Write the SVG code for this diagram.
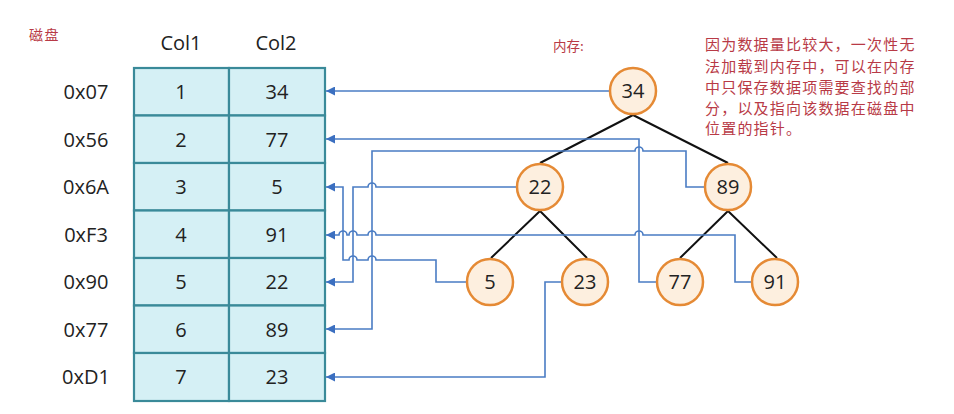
<svg xmlns="http://www.w3.org/2000/svg" width="954" height="414" viewBox="0 0 954 414">
<defs>
<style>
.t{font-family:"Open Sans","Noto Sans",sans-serif;font-size:20px;fill:#222;text-anchor:middle;dominant-baseline:central}
.red{font-family:"Noto Sans CJK SC",sans-serif;fill:#b83a46}
.node circle{fill:#fdefdf;stroke:#e58a35;stroke-width:2.5}
.edge{stroke:#111;stroke-width:2;fill:none}
.conn path{stroke:#4a7cc4;stroke-width:1.6;fill:none;marker-end:url(#arr)}
.cell{fill:#d5f0f5;stroke:#3a8a99;stroke-width:2.2}
</style>
<marker id="arr" viewBox="0 0 10 10" refX="10" refY="5" markerWidth="9" markerHeight="9" markerUnits="userSpaceOnUse" orient="auto">
<path d="M0,0 L10,5 L0,10 z" fill="#3b6fc0"/>
</marker>
</defs>
<rect width="954" height="414" fill="#fff"/>
<text class="red" x="29" y="40" font-size="14" letter-spacing="1.5">磁盘</text>
<text class="red" x="553" y="51" font-size="13.5">内存:</text>
<g class="red" font-size="15" letter-spacing="1.2">
<text x="705" y="50">因为数据量比较大，一次性无</text>
<text x="705" y="72">法加载到内存中，可以在内存</text>
<text x="705" y="93">中只保存数据项需要查找的部</text>
<text x="705" y="114">分，以及指向该数据在磁盘中</text>
<text x="705" y="134">位置的指针。</text>
</g>
<g id="table">
<text class="t" x="181" y="42">Col1</text>
<text class="t" x="276" y="42">Col2</text>
<rect class="cell" x="134" y="68" width="95" height="47.5"/><rect class="cell" x="229" y="68" width="96" height="47.5"/>
<rect class="cell" x="134" y="115.5" width="95" height="47.5"/><rect class="cell" x="229" y="115.5" width="96" height="47.5"/>
<rect class="cell" x="134" y="163" width="95" height="47.5"/><rect class="cell" x="229" y="163" width="96" height="47.5"/>
<rect class="cell" x="134" y="210.5" width="95" height="47.5"/><rect class="cell" x="229" y="210.5" width="96" height="47.5"/>
<rect class="cell" x="134" y="258" width="95" height="47.5"/><rect class="cell" x="229" y="258" width="96" height="47.5"/>
<rect class="cell" x="134" y="305.5" width="95" height="47.5"/><rect class="cell" x="229" y="305.5" width="96" height="47.5"/>
<rect class="cell" x="134" y="353" width="95" height="48"/><rect class="cell" x="229" y="353" width="96" height="48"/>
<text class="t" x="86" y="91">0x07</text><text class="t" x="181" y="91">1</text><text class="t" x="277" y="91">34</text>
<text class="t" x="86" y="139">0x56</text><text class="t" x="181" y="139">2</text><text class="t" x="277" y="139">77</text>
<text class="t" x="86" y="186">0x6A</text><text class="t" x="181" y="186">3</text><text class="t" x="277" y="186">5</text>
<text class="t" x="86" y="234">0xF3</text><text class="t" x="181" y="234">4</text><text class="t" x="277" y="234">91</text>
<text class="t" x="86" y="281">0x90</text><text class="t" x="181" y="281">5</text><text class="t" x="277" y="281">22</text>
<text class="t" x="86" y="329">0x77</text><text class="t" x="181" y="329">6</text><text class="t" x="277" y="329">89</text>
<text class="t" x="86" y="376">0xD1</text><text class="t" x="181" y="376">7</text><text class="t" x="277" y="376">23</text>
</g>
<g id="edges">
<path class="edge" d="M633,115 L540,163 M633,115 L728,163 M540,211 L491,258 M540,211 L587,258 M728,211 L680,258 M728,211 L777,258"/>
</g>
<g id="connectors" class="conn">
<path d="M609,91 H326"/>
<path d="M656,282 H639 V139 H326"/>
<path d="M466,282 H436 V260 H376 A4,4 0 0 0 368,260 H357 A4,4 0 0 0 349,260 H343 V187 H326"/>
<path d="M751,282 H735 V235 H643 A4,4 0 0 0 635,235 H376 A4,4 0 0 0 368,235 H357 A4,4 0 0 0 349,235 H347 A4,4 0 0 0 339,235 H326"/>
<path d="M516,187 H376 A4,4 0 0 0 368,187 H353 V282 H326"/>
<path d="M704,187 H686 V151 H643 A4,4 0 0 0 635,151 H372 V329 H326"/>
<path d="M561,282 H545 V377 H326"/>
</g>
<g id="n34" class="node"><circle cx="633" cy="91" r="23"/><text class="t" x="633" y="90">34</text></g>
<g id="n22" class="node"><circle cx="540" cy="187" r="23"/><text class="t" x="540" y="186">22</text></g>
<g id="n89" class="node"><circle cx="728" cy="187" r="23"/><text class="t" x="728" y="186">89</text></g>
<g id="n5" class="node"><circle cx="490" cy="282" r="23"/><text class="t" x="490" y="281">5</text></g>
<g id="n23" class="node"><circle cx="585" cy="282" r="23"/><text class="t" x="585" y="281">23</text></g>
<g id="n77" class="node"><circle cx="680" cy="282" r="23"/><text class="t" x="680" y="281">77</text></g>
<g id="n91" class="node"><circle cx="775" cy="282" r="23"/><text class="t" x="775" y="281">91</text></g>
</svg>
